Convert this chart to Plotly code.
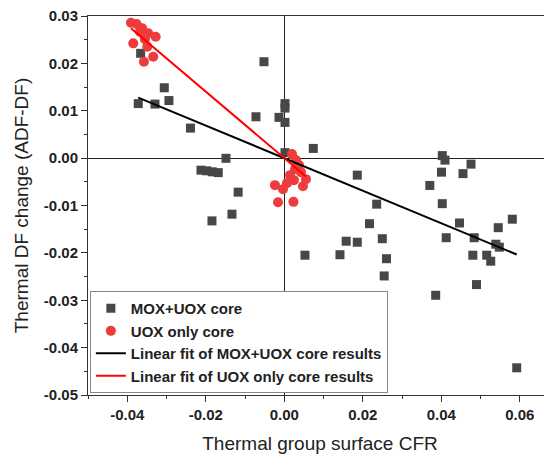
import numpy as np
import plotly.graph_objects as go

# MOX+UOX core results (Thermal group surface CFR, Thermal DF change)
mox_x = [-0.03659, -0.00517, -0.03057, -0.03720, -0.03294, -0.02938, 0.00018, 0.00018,
         -0.00721, -0.00135, 0.00018, -0.02390, 0.00739, 0.00018, -0.01485, -0.02122,
         -0.01977, -0.01834, -0.01682, -0.01175, -0.01333, -0.01842, 0.01860, 0.04025,
         0.04094, 0.04757, 0.04005, 0.04553, 0.03707, 0.02354, 0.04025, 0.05809,
         0.04464, 0.02171, 0.05450, 0.02497, 0.04125, 0.04838, 0.01577, 0.01860,
         0.05389, 0.05478, 0.00527, 0.01419, 0.02604, 0.04803, 0.05157, 0.05259,
         0.02545, 0.04897, 0.03857, 0.05921]
mox_y = [0.02212, 0.02035, 0.01485, 0.01151, 0.01141, 0.01215, 0.01151, 0.01056,
         0.00873, 0.00860, 0.00754, 0.00634, 0.00205, 0.00116, -0.00004, -0.00254,
         -0.00268, -0.00289, -0.00306, -0.00718, -0.01183, -0.01325, -0.00359, 0.00053,
         -0.00042, -0.00127, -0.00296, -0.00327, -0.00577, -0.00972, -0.00961, -0.01289,
         -0.01369, -0.01384, -0.01468, -0.01701, -0.01680, -0.01680, -0.01754, -0.01775,
         -0.01817, -0.01880, -0.02049, -0.02039, -0.02123, -0.02049, -0.02049, -0.02176,
         -0.02487, -0.02669, -0.02895, -0.04426]

# UOX only core results
uox_x = [-0.03906, -0.03761, -0.03618, -0.03465, -0.03276, -0.03847, -0.03549, -0.03490,
         -0.03338, -0.03575, -0.03676,
         0.00196, 0.00298, 0.00375, 0.00273, 0.00425, 0.00553, 0.00476, 0.00247,
         0.00069, -0.00033, -0.00237, -0.00160, 0.00234, 0.00145]
uox_y = [0.02859, 0.02831, 0.02740, 0.02635, 0.02563, 0.02423, 0.02508, 0.02352,
         0.02140, 0.02035, 0.02668,
         0.00085, -0.00042, -0.00148, -0.00232, -0.00296, -0.00444, -0.00592, -0.00465,
         -0.00528, -0.00655, -0.00570, -0.00930, -0.00923, -0.00359]

x_ticks = [-0.04, -0.02, 0.00, 0.02, 0.04, 0.06]
x_tick_labels = ["-0.04", "-0.02", "0.00", "0.02", "0.04", "0.06"]
y_ticks = [0.03, 0.02, 0.01, 0.00, -0.01, -0.02, -0.03, -0.04, -0.05]
y_tick_labels = ["0.03", "0.02", "0.01", "0.00", "-0.01", "-0.02", "-0.03", "-0.04", "-0.05"]

def fit_line(xs, ys):
    # least-squares linear fit with the intercept fixed at zero
    xs = np.array(xs); ys = np.array(ys)
    k = float(np.sum(xs * ys) / np.sum(xs * xs))
    xx = np.array([xs.min(), xs.max()])
    return xx, k * xx

mfx, mfy = fit_line(mox_x, mox_y)
ufx, ufy = fit_line(uox_x, uox_y)

GRAY = "#474747"
RED = "#EE3B3B"

fig = go.Figure()
fig.add_trace(go.Scatter(x=mox_x, y=mox_y, mode="markers", name="MOX+UOX core",
                         marker=dict(symbol="square", size=9, color=GRAY)))
fig.add_trace(go.Scatter(x=uox_x, y=uox_y, mode="markers", name="UOX only core",
                         marker=dict(symbol="circle", size=10, color=RED)))
fig.add_trace(go.Scatter(x=mfx, y=mfy, mode="lines", name="Linear fit of MOX+UOX core results",
                         line=dict(color="black", width=2)))
fig.add_trace(go.Scatter(x=ufx, y=ufy, mode="lines", name="Linear fit of UOX only core results",
                         line=dict(color="#FF0000", width=2)))

tickfont = dict(family="Arial, Liberation Sans", size=15, color="#222222", weight="bold")
fig.update_layout(
    width=544, height=448,
    margin=dict(l=80, r=0, t=8, b=61),
    paper_bgcolor="white", plot_bgcolor="white",
    font=dict(family="Arial, Liberation Sans", color="#222222"),
    showlegend=True,
    legend=dict(x=0.004, y=0.005, xanchor="left", yanchor="bottom",
                bgcolor="white", bordercolor="#888888", borderwidth=1,
                font=dict(family="Arial, Liberation Sans", size=15, color="#222222", weight="bold"),
                tracegroupgap=0, itemwidth=30),
    xaxis=dict(range=[-0.05, 0.0682], tickvals=x_ticks, ticktext=x_tick_labels,
               ticks="outside", ticklen=6, tickcolor="#333333", tickfont=tickfont,
               minor=dict(dtick=0.01, tick0=0, ticks="outside", ticklen=3, tickcolor="#333333"),
               showline=True, linecolor="#333333", linewidth=1, mirror=True,
               showgrid=False, zeroline=True, zerolinecolor="#222222", zerolinewidth=1,
               automargin=False, ticklabeloverflow="allow",
               title=dict(text="Thermal group surface CFR", font=dict(size=19, family="Arial, Liberation Sans"), standoff=14)),
    yaxis=dict(range=[-0.05, 0.03], tickvals=y_ticks, ticktext=y_tick_labels,
               ticks="outside", ticklen=6, tickcolor="#333333", tickfont=tickfont,
               minor=dict(dtick=0.005, tick0=0, ticks="outside", ticklen=3, tickcolor="#333333"),
               showline=True, linecolor="#333333", linewidth=1, mirror=False,
               showgrid=False, zeroline=True, zerolinecolor="#222222", zerolinewidth=1,
               automargin=False, ticklabeloverflow="allow",
               title=dict(text="Thermal DF change (ADF-DF)", font=dict(size=19, family="Arial, Liberation Sans"), standoff=10)),
)
fig.write_html("out.html")
